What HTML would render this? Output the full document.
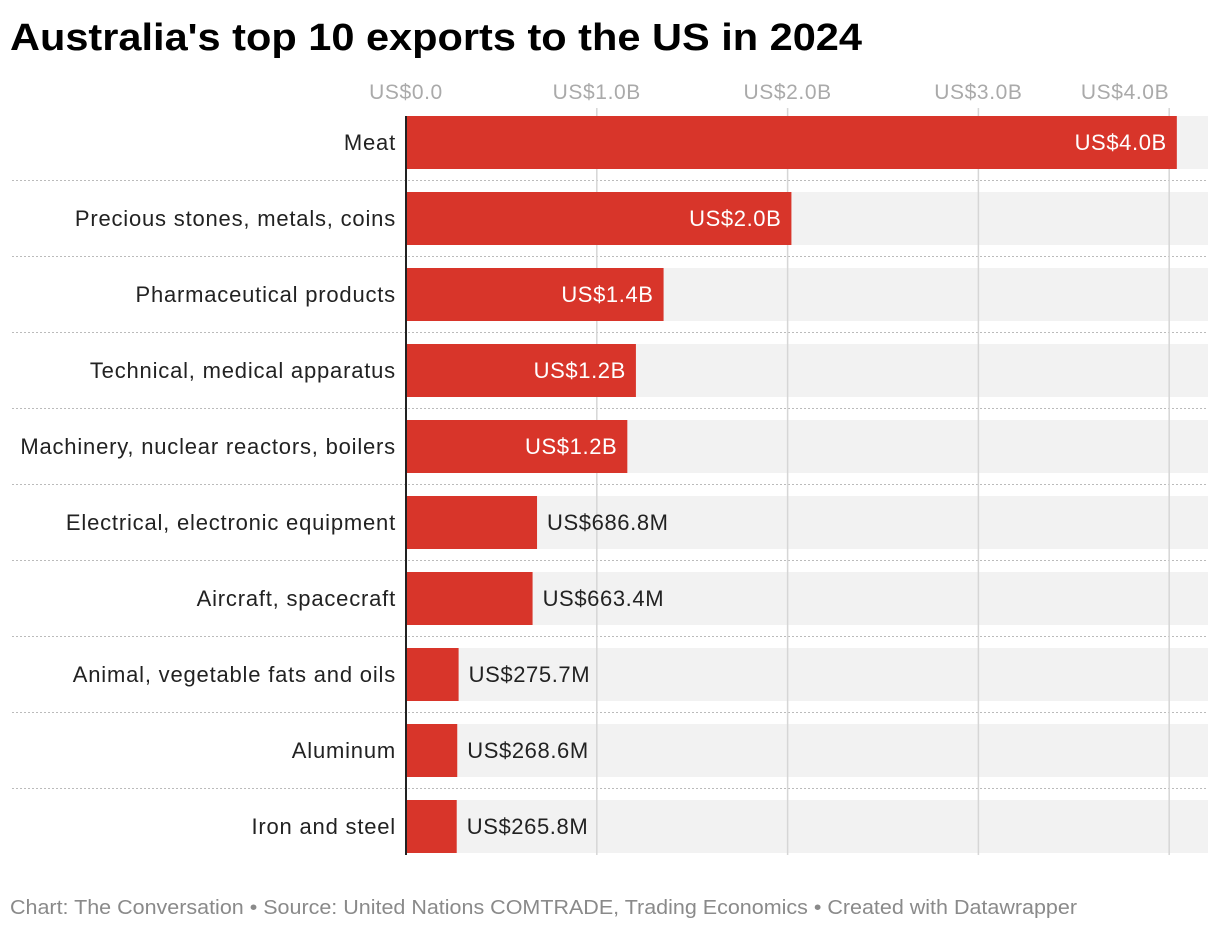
<!DOCTYPE html>
<html><head><meta charset="utf-8"><style>
body{margin:0;background:#fff;width:1220px;height:930px;overflow:hidden;font-family:"Liberation Sans",sans-serif;}
</style></head><body>
<svg width="1220" height="930" xmlns="http://www.w3.org/2000/svg">
<text x="10" y="50" font-size="38" font-weight="bold" fill="#000" textLength="852" lengthAdjust="spacingAndGlyphs">Australia's top 10 exports to the US in 2024</text>
<g id="plot"></g>
<text x="10" y="914" font-size="20" fill="#8a8a8a" textLength="1067" lengthAdjust="spacingAndGlyphs">Chart: The Conversation • Source: United Nations COMTRADE, Trading Economics • Created with Datawrapper</text>
</svg>
<script>
const categories=["Meat","Precious stones, metals, coins","Pharmaceutical products","Technical, medical apparatus","Machinery, nuclear reactors, boilers","Electrical, electronic equipment","Aircraft, spacecraft","Animal, vegetable fats and oils","Aluminum","Iron and steel"];
const values=[4.04,2.02,1.35,1.205,1.16,0.6868,0.6634,0.2757,0.2686,0.2658];
const valueLabels=["US$4.0B","US$2.0B","US$1.4B","US$1.2B","US$1.2B","US$686.8M","US$663.4M","US$275.7M","US$268.6M","US$265.8M"];
const ticks=[0,1,2,3,4];
const tickLabels=["US$0.0","US$1.0B","US$2.0B","US$3.0B","US$4.0B"];
const NS="http://www.w3.org/2000/svg",g=document.getElementById('plot');
const x=v=>406+v*190.8, rowTop=i=>116+i*76, bh=53;
function el(t,a,txt){const e=document.createElementNS(NS,t);for(const k in a)e.setAttribute(k,a[k]);if(txt!=null)e.textContent=txt;g.appendChild(e);return e;}
categories.forEach((c,i)=>{
 const r=el('rect',{x:406,y:rowTop(i),width:802,height:bh,fill:'#f2f2f2'});
 
 
 if(i>0){const l=el('line',{x1:12,x2:1208,y1:rowTop(i)-11.5,y2:rowTop(i)-11.5,stroke:'#bbb','stroke-dasharray':'2,2'});
 
 }
});
ticks.forEach((t,i)=>{
 if(t>0){const l=el('line',{x1:x(t),x2:x(t),y1:108,y2:855,stroke:'#d6d6d6','stroke-width':1.5});
 
 }
 const last=i==ticks.length-1;
 const tx=el('text',{x:x(t),y:99,'font-size':21,'letter-spacing':'0.6',fill:'#aaa','text-anchor':last?'end':'middle'},tickLabels[i]);
 
 
});
categories.forEach((c,i)=>{
 const y=rowTop(i),w=x(values[i])-406;
 const b=el('rect',{x:406,y:y,width:w,height:bh,fill:'#d8352a'});
 
 
 const lb=el('text',{x:396,y:y+34,'font-size':22,'letter-spacing':'0.8',fill:'#222','text-anchor':'end'},c);
 
 
 const inside=w>200;
 const v=el('text',{x:inside?406+w-10:406+w+10,y:y+34,'font-size':22,'letter-spacing':'0.6',fill:inside?'#fff':'#222','text-anchor':inside?'end':'start'},valueLabels[i]);
 
 
});
const ax=el('line',{x1:406,x2:406,y1:116,y2:855,stroke:'#222','stroke-width':2});


</script>
</body></html>
